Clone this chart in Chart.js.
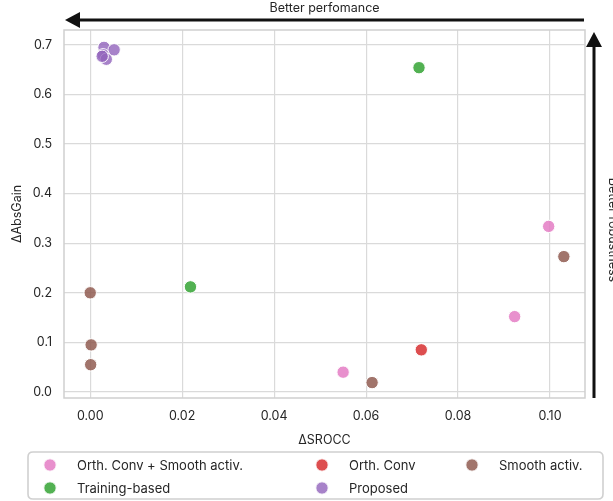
<!DOCTYPE html>
<html>
<head>
<meta charset="utf-8">
<script src="https://cdn.jsdelivr.net/npm/chart.js@4.4.1/dist/chart.umd.min.js"></script>
<style>
html,body{margin:0;padding:0;background:#fff;}
#wrap{width:613px;height:501px;position:relative;}
canvas{display:block;}
</style>
</head>
<body>
<div id="wrap"><canvas id="c" width="613" height="501"></canvas></div>
<script>
// ---- data ----
const xTicks = [0.00, 0.02, 0.04, 0.06, 0.08, 0.10];
const yTicks = [0.0, 0.1, 0.2, 0.3, 0.4, 0.5, 0.6, 0.7];

const orthSmoothX = [0.0997, 0.0923, 0.0550];
const orthSmoothY = [0.334, 0.152, 0.040];

const orthConvX = [0.0720];
const orthConvY = [0.085];

const smoothX = [0.1030, 0.0613, 0.0000, 0.0002, 0.0001];
const smoothY = [0.273, 0.019, 0.200, 0.095, 0.055];

const trainX = [0.0715, 0.0218];
const trainY = [0.654, 0.212];

const propX = [0.0030, 0.0052, 0.0028, 0.0035, 0.0026];
const propY = [0.695, 0.690, 0.680, 0.671, 0.677];

const seriesNames = ['Orth. Conv + Smooth activ.', 'Training-based', 'Orth. Conv', 'Proposed', 'Smooth activ.'];
// ---------------

const FONT = 'Inter, "DejaVu Sans", sans-serif';
const TXT = '#262626';

function pts(xs, ys){ return xs.map((x,i)=>({x:x, y:ys[i]})); }

const colors = {
  'Orth. Conv + Smooth activ.': 'rgba(227,119,194,0.82)',
  'Training-based': 'rgba(44,160,44,0.82)',
  'Orth. Conv': 'rgba(214,39,40,0.82)',
  'Proposed': 'rgba(148,103,189,0.82)',
  'Smooth activ.': 'rgba(140,86,75,0.82)'
};

function ds(name, xs, ys){
  return {label:name, data:pts(xs,ys), backgroundColor:colors[name], borderColor:'#ffffff',
    borderWidth:1, pointRadius:6.2, pointHoverRadius:6.2};
}

const frame = {
  id:'frame',
  beforeDatasetsDraw(chart){
    const {ctx, chartArea:a} = chart;
    ctx.save();
    ctx.strokeStyle = '#cfcfcf';
    ctx.lineWidth = 1.5;
    ctx.strokeRect(a.left, a.top, a.right-a.left, a.bottom-a.top);
    ctx.restore();
  }
};

const decor = {
  id:'decor',
  afterDraw(chart){
    const {ctx, chartArea:a} = chart;
    ctx.save();
    // top arrow
    ctx.strokeStyle = '#111'; ctx.fillStyle = '#111'; ctx.lineWidth = 3;
    const ty = 20;
    ctx.beginPath(); ctx.moveTo(a.right-1, ty); ctx.lineTo(a.left+12, ty); ctx.stroke();
    ctx.beginPath(); ctx.moveTo(a.left+1, ty); ctx.lineTo(a.left+16, ty-8); ctx.lineTo(a.left+16, ty+8); ctx.closePath(); ctx.fill();
    ctx.font = '12.5px ' + FONT; ctx.fillStyle = TXT; ctx.textAlign='center'; ctx.textBaseline='middle';
    ctx.fillText('Better perfomance', (a.left+a.right)/2, 8);
    // right arrow
    ctx.fillStyle = '#111';
    const rx = 594;
    ctx.beginPath(); ctx.moveTo(rx, a.bottom); ctx.lineTo(rx, a.top+14); ctx.stroke();
    ctx.beginPath(); ctx.moveTo(rx, a.top+2); ctx.lineTo(rx-8, a.top+17); ctx.lineTo(rx+8, a.top+17); ctx.closePath(); ctx.fill();
    ctx.translate(613, 230); ctx.rotate(Math.PI/2);
    ctx.font = '12.5px ' + FONT; ctx.fillStyle = TXT; ctx.textAlign='center'; ctx.textBaseline='middle';
    ctx.fillText('Better robustness', 0, 0);
    ctx.restore();

    // legend
    ctx.save();
    const bx = 28, by = 452, bw = 575, bh = 47, r = 5;
    ctx.strokeStyle = '#d0d0d0'; ctx.lineWidth = 1.6; ctx.fillStyle='#fff';
    ctx.beginPath();
    ctx.moveTo(bx+r, by); ctx.lineTo(bx+bw-r, by); ctx.quadraticCurveTo(bx+bw, by, bx+bw, by+r);
    ctx.lineTo(bx+bw, by+bh-r); ctx.quadraticCurveTo(bx+bw, by+bh, bx+bw-r, by+bh);
    ctx.lineTo(bx+r, by+bh); ctx.quadraticCurveTo(bx, by+bh, bx, by+bh-r);
    ctx.lineTo(bx, by+r); ctx.quadraticCurveTo(bx, by, bx+r, by); ctx.closePath();
    ctx.fill(); ctx.stroke();
    const colX = [50, 322, 472];
    const rowY = [465, 488];
    ctx.font = '13px ' + FONT; ctx.textAlign='left'; ctx.textBaseline='middle';
    seriesNames.forEach((name, i)=>{
      const col = Math.floor(i/2), row = i%2;
      const x = colX[col], y = rowY[row];
      ctx.beginPath(); ctx.arc(x, y, 6.2, 0, Math.PI*2);
      ctx.fillStyle = colors[name]; ctx.fill();
      ctx.strokeStyle = '#fff'; ctx.lineWidth = 1; ctx.stroke();
      ctx.fillStyle = TXT;
      ctx.fillText(name, x+27, y+1);
    });
    ctx.restore();
  }
};

new Chart(document.getElementById('c'), {
  type:'scatter',
  data:{ datasets:[
    ds('Orth. Conv + Smooth activ.', orthSmoothX, orthSmoothY),
    ds('Training-based', trainX, trainY),
    ds('Orth. Conv', orthConvX, orthConvY),
    ds('Smooth activ.', smoothX, smoothY),
    ds('Proposed', propX, propY)
  ]},
  options:{
    responsive:false, animation:false, devicePixelRatio:1,
    layout:{padding:{top:30, right:28, bottom:53, left:0}},
    plugins:{legend:{display:false}, tooltip:{enabled:false}},
    scales:{
      x:{
        type:'linear', min:-0.0057, max:0.1076,
        afterBuildTicks:(s)=>{ s.ticks = xTicks.map(v=>({value:v})); },
        afterFit:(s)=>{ s.height = 50; },
        grid:{color:'#dadada', lineWidth:1.2, drawTicks:false},
        border:{display:false},
        ticks:{padding:11, color:TXT, font:{family:FONT, size:12.5}, callback:(v)=>Number(v).toFixed(2)},
        title:{display:true, text:'ΔSROCC', color:TXT, font:{family:FONT, size:12.5}, padding:{top:1, bottom:0}}
      },
      y:{
        type:'linear', min:-0.0121, max:0.730,
        afterBuildTicks:(s)=>{ s.ticks = yTicks.map(v=>({value:v})); },
        afterFit:(s)=>{ s.width = 64; },
        grid:{color:'#dadada', lineWidth:1.2, drawTicks:false},
        border:{display:false},
        ticks:{padding:12, color:TXT, font:{family:FONT, size:12.5}, callback:(v)=>Number(v).toFixed(1)},
        title:{display:true, text:'ΔAbsGain', color:TXT, font:{family:FONT, size:12.5}, padding:{top:10, bottom:0}}
      }
    }
  },
  plugins:[frame, decor]
});
</script>
</body>
</html>
